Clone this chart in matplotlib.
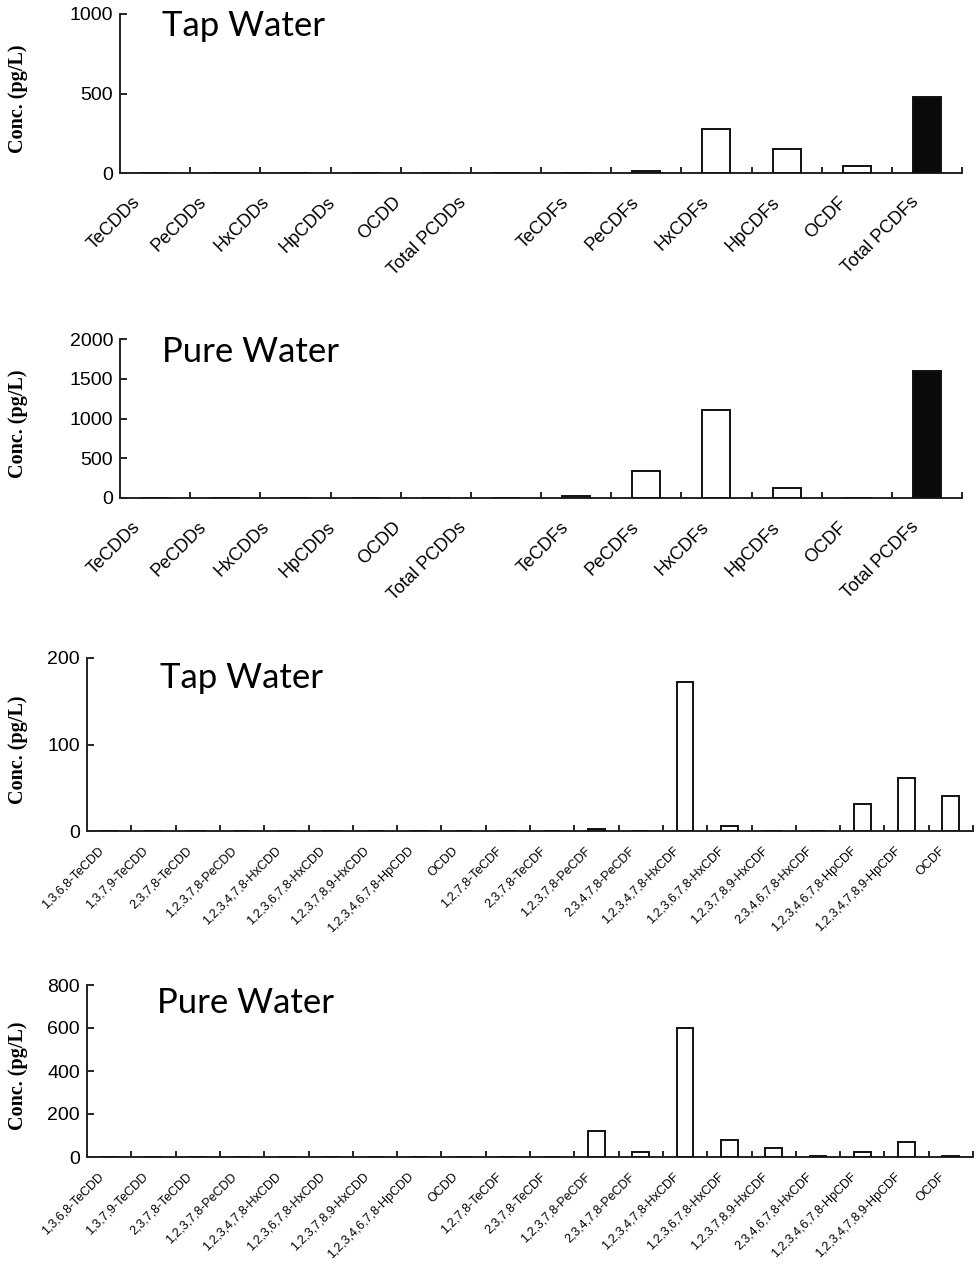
import numpy as np
import matplotlib
matplotlib.use("Agg")
import matplotlib.pyplot as plt
from matplotlib.ticker import FixedLocator, NullFormatter
from matplotlib.transforms import ScaledTranslation

# ── data ──
HOMOLOGS = ['TeCDDs', 'PeCDDs', 'HxCDDs', 'HpCDDs', 'OCDD', 'Total PCDDs',
            'TeCDFs', 'PeCDFs', 'HxCDFs', 'HpCDFs', 'OCDF', 'Total PCDFs']
TAP_HOMOLOG = [0, 0, 0, 0, 0, 0, 0, 10, 275, 150, 45, 480]
PURE_HOMOLOG = [0, 0, 0, 0, 0, 0, 20, 340, 1110, 120, 0, 1600]
HOMOLOG_TOTAL = [False] * 5 + [True] + [False] * 5 + [True]

CONGENERS = ['1,3,6,8-TeCDD', '1,3,7,9-TeCDD', '2,3,7,8-TeCDD', '1,2,3,7,8-PeCDD',
             '1,2,3,4,7,8-HxCDD', '1,2,3,6,7,8-HxCDD', '1,2,3,7,8,9-HxCDD',
             '1,2,3,4,6,7,8-HpCDD', 'OCDD', '1,2,7,8-TeCDF', '2,3,7,8-TeCDF',
             '1,2,3,7,8-PeCDF', '2,3,4,7,8-PeCDF', '1,2,3,4,7,8-HxCDF',
             '1,2,3,6,7,8-HxCDF', '1,2,3,7,8,9-HxCDF', '2,3,4,6,7,8-HxCDF',
             '1,2,3,4,6,7,8-HpCDF', '1,2,3,4,7,8,9-HpCDF', 'OCDF']
TAP_CONGENER = [0, 0, 0, 0, 0, 0, 0, 0, 0, 0, 0, 2, 0, 172, 6, 0, 0, 31, 61, 40]
PURE_CONGENER = [0, 0, 0, 0, 0, 0, 0, 0, 0, 0, 0, 120, 25, 600, 80, 40, 5, 25, 72, 5]

# horizontal nudge of each category label (px) - the homolog labels in the
# original are squeezed together on the left half
HOMOLOG_DX = [-23, -28, -35, -39, -43, -48, -16, -16, -16, -15, -19, -17]
CONGENER_DX = [-12] * 20

W, H = 976, 1264
TICK_FONT = 'Liberation Sans'


def px_axes(fig, left, top, right, bottom):
    return fig.add_axes([left / W, 1 - bottom / H, (right - left) / W, (bottom - top) / H])


def draw_panel(fig, box, cats, vals, totals, ymax, ystep, lab_size, bar_w, lab_dx, lab_pad):
    ax = px_axes(fig, *box)
    x = np.arange(len(cats))
    colors = ['#0a0a0a' if t else 'white' for t in totals]
    ax.bar(x, vals, width=bar_w, color=colors, edgecolor='#111111', linewidth=1.4, zorder=3)

    ax.set_xlim(-0.5, len(cats) - 0.5)
    ax.set_ylim(0, ymax)
    ax.set_yticks(np.arange(0, ymax + 1, ystep))
    for s in ['top', 'right']:
        ax.spines[s].set_visible(False)
    for s in ['left', 'bottom']:
        ax.spines[s].set_linewidth(1.4)
        ax.spines[s].set_color('#222222')

    # category labels at centres, tick marks at boundaries
    ax.set_xticks(x)
    ax.set_xticklabels(cats, rotation=45, ha='right', va='top',
                       rotation_mode='anchor', fontsize=lab_size, family=TICK_FONT)
    ax.tick_params(axis='x', which='major', length=0, pad=lab_pad)
    ax.xaxis.set_minor_locator(FixedLocator(np.arange(len(cats)) + 0.5))
    ax.xaxis.set_minor_formatter(NullFormatter())
    ax.tick_params(axis='x', which='minor', direction='in', length=4, width=1.2)
    ax.tick_params(axis='y', direction='in', length=5, width=1.2, labelsize=14, pad=5)
    for t in ax.get_yticklabels():
        t.set_family(TICK_FONT)
    for t, dx in zip(ax.get_xticklabels(), lab_dx):
        t.set_transform(t.get_transform() + ScaledTranslation(dx / 100, 0, fig.dpi_scale_trans))

    pos = ax.get_position()
    fig.text(18 / W, pos.y0 + pos.height / 2 - 0.004, 'Conc. (pg/L)', rotation=90,
             ha='center', va='center', family='Liberation Serif', fontweight='bold',
             fontsize=14.5)
    return ax


fig = plt.figure(figsize=(W / 100, H / 100), dpi=100)

ax1 = draw_panel(fig, (120, 14, 962, 173), HOMOLOGS, TAP_HOMOLOG, HOMOLOG_TOTAL,
                 1000, 500, 13, 0.4, HOMOLOG_DX, 15)
ax2 = draw_panel(fig, (120, 339, 962, 498), HOMOLOGS, PURE_HOMOLOG, HOMOLOG_TOTAL,
                 2000, 500, 13, 0.4, HOMOLOG_DX, 15)
ax3 = draw_panel(fig, (87, 658, 973, 831), CONGENERS, TAP_CONGENER, [False] * 20,
                 200, 100, 9, 0.38, CONGENER_DX, 10)
ax4 = draw_panel(fig, (87, 985, 973, 1157), CONGENERS, PURE_CONGENER, [False] * 20,
                 800, 200, 9, 0.38, CONGENER_DX, 10)

# panel titles
for (xp, yp, txt) in [(162, 10, 'Tap Water'), (162, 336, 'Pure Water'),
                      (160, 662, 'Tap Water'), (157, 987, 'Pure Water')]:
    fig.text(xp / W, 1 - yp / H, txt, ha='left', va='top', family='Lato',
             fontsize=25, color='black')

fig.savefig('out.png', dpi=100)
